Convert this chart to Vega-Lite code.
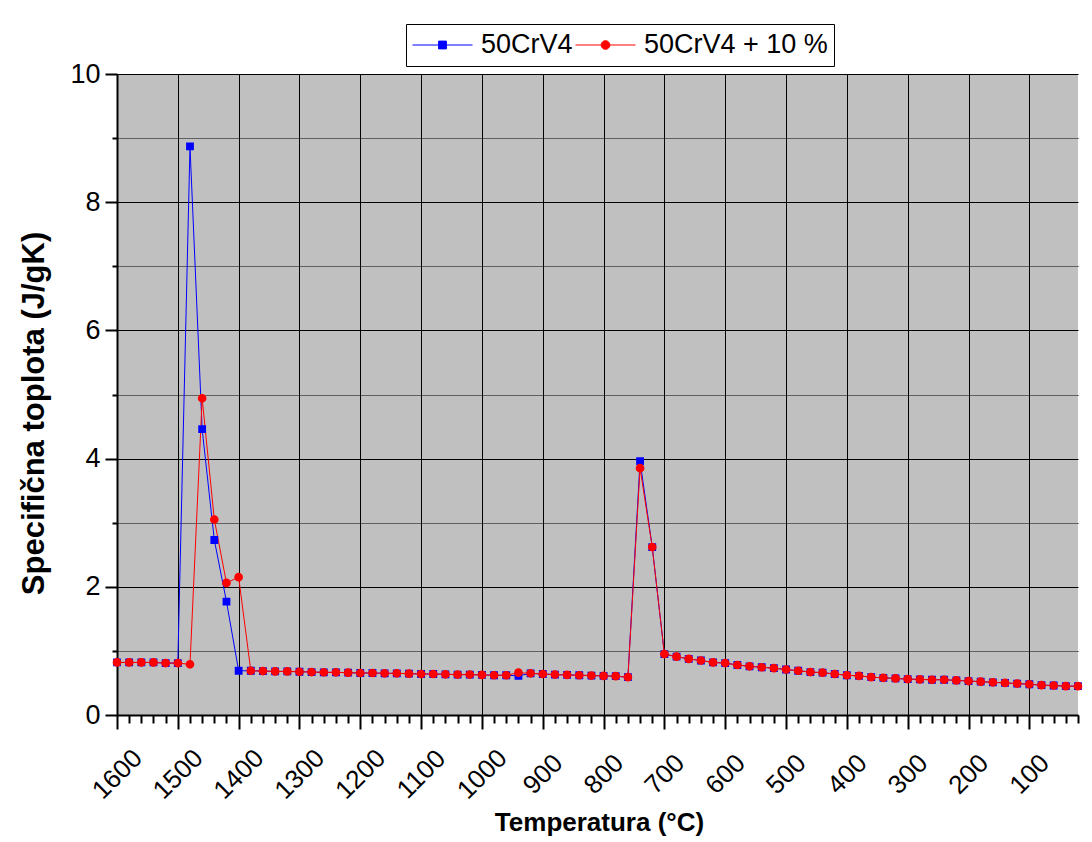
{
  "$schema": "https://vega.github.io/schema/vega-lite/v6.json",
  "autosize": {"type": "none"},
  "padding": {"left": 117, "top": 74, "right": 14, "bottom": 127},
  "width": 961,
  "height": 641,
  "background": "white",
  "config": {
    "view": {"fill": "#c0c0c0", "stroke": null},
    "font": "Liberation Sans"
  },
  "data": {"values": [
    {"T": 1600, "v": 0.82, "s": "50CrV4"},
    {"T": 1580, "v": 0.82, "s": "50CrV4"},
    {"T": 1560, "v": 0.82, "s": "50CrV4"},
    {"T": 1540, "v": 0.82, "s": "50CrV4"},
    {"T": 1520, "v": 0.81, "s": "50CrV4"},
    {"T": 1500, "v": 0.81, "s": "50CrV4"},
    {"T": 1480, "v": 8.87, "s": "50CrV4"},
    {"T": 1460, "v": 4.46, "s": "50CrV4"},
    {"T": 1440, "v": 2.73, "s": "50CrV4"},
    {"T": 1420, "v": 1.77, "s": "50CrV4"},
    {"T": 1400, "v": 0.69, "s": "50CrV4"},
    {"T": 1380, "v": 0.69, "s": "50CrV4"},
    {"T": 1360, "v": 0.685, "s": "50CrV4"},
    {"T": 1340, "v": 0.68, "s": "50CrV4"},
    {"T": 1320, "v": 0.68, "s": "50CrV4"},
    {"T": 1300, "v": 0.675, "s": "50CrV4"},
    {"T": 1280, "v": 0.67, "s": "50CrV4"},
    {"T": 1260, "v": 0.665, "s": "50CrV4"},
    {"T": 1240, "v": 0.665, "s": "50CrV4"},
    {"T": 1220, "v": 0.66, "s": "50CrV4"},
    {"T": 1200, "v": 0.655, "s": "50CrV4"},
    {"T": 1180, "v": 0.655, "s": "50CrV4"},
    {"T": 1160, "v": 0.65, "s": "50CrV4"},
    {"T": 1140, "v": 0.65, "s": "50CrV4"},
    {"T": 1120, "v": 0.645, "s": "50CrV4"},
    {"T": 1100, "v": 0.64, "s": "50CrV4"},
    {"T": 1080, "v": 0.64, "s": "50CrV4"},
    {"T": 1060, "v": 0.635, "s": "50CrV4"},
    {"T": 1040, "v": 0.63, "s": "50CrV4"},
    {"T": 1020, "v": 0.63, "s": "50CrV4"},
    {"T": 1000, "v": 0.625, "s": "50CrV4"},
    {"T": 980, "v": 0.62, "s": "50CrV4"},
    {"T": 960, "v": 0.62, "s": "50CrV4"},
    {"T": 940, "v": 0.61, "s": "50CrV4"},
    {"T": 920, "v": 0.65, "s": "50CrV4"},
    {"T": 900, "v": 0.64, "s": "50CrV4"},
    {"T": 880, "v": 0.63, "s": "50CrV4"},
    {"T": 860, "v": 0.625, "s": "50CrV4"},
    {"T": 840, "v": 0.62, "s": "50CrV4"},
    {"T": 820, "v": 0.615, "s": "50CrV4"},
    {"T": 800, "v": 0.61, "s": "50CrV4"},
    {"T": 780, "v": 0.605, "s": "50CrV4"},
    {"T": 760, "v": 0.59, "s": "50CrV4"},
    {"T": 740, "v": 3.96, "s": "50CrV4"},
    {"T": 720, "v": 2.62, "s": "50CrV4"},
    {"T": 700, "v": 0.95, "s": "50CrV4"},
    {"T": 680, "v": 0.91, "s": "50CrV4"},
    {"T": 660, "v": 0.875, "s": "50CrV4"},
    {"T": 640, "v": 0.85, "s": "50CrV4"},
    {"T": 620, "v": 0.82, "s": "50CrV4"},
    {"T": 600, "v": 0.81, "s": "50CrV4"},
    {"T": 580, "v": 0.78, "s": "50CrV4"},
    {"T": 560, "v": 0.76, "s": "50CrV4"},
    {"T": 540, "v": 0.745, "s": "50CrV4"},
    {"T": 520, "v": 0.73, "s": "50CrV4"},
    {"T": 500, "v": 0.71, "s": "50CrV4"},
    {"T": 480, "v": 0.69, "s": "50CrV4"},
    {"T": 460, "v": 0.67, "s": "50CrV4"},
    {"T": 440, "v": 0.66, "s": "50CrV4"},
    {"T": 420, "v": 0.64, "s": "50CrV4"},
    {"T": 400, "v": 0.62, "s": "50CrV4"},
    {"T": 380, "v": 0.61, "s": "50CrV4"},
    {"T": 360, "v": 0.59, "s": "50CrV4"},
    {"T": 340, "v": 0.58, "s": "50CrV4"},
    {"T": 320, "v": 0.57, "s": "50CrV4"},
    {"T": 300, "v": 0.56, "s": "50CrV4"},
    {"T": 280, "v": 0.555, "s": "50CrV4"},
    {"T": 260, "v": 0.55, "s": "50CrV4"},
    {"T": 240, "v": 0.55, "s": "50CrV4"},
    {"T": 220, "v": 0.54, "s": "50CrV4"},
    {"T": 200, "v": 0.53, "s": "50CrV4"},
    {"T": 180, "v": 0.52, "s": "50CrV4"},
    {"T": 160, "v": 0.51, "s": "50CrV4"},
    {"T": 140, "v": 0.5, "s": "50CrV4"},
    {"T": 120, "v": 0.49, "s": "50CrV4"},
    {"T": 100, "v": 0.48, "s": "50CrV4"},
    {"T": 80, "v": 0.465, "s": "50CrV4"},
    {"T": 60, "v": 0.46, "s": "50CrV4"},
    {"T": 40, "v": 0.45, "s": "50CrV4"},
    {"T": 20, "v": 0.45, "s": "50CrV4"},
    {"T": 1600, "v": 0.82, "s": "50CrV4 + 10 %"},
    {"T": 1580, "v": 0.82, "s": "50CrV4 + 10 %"},
    {"T": 1560, "v": 0.82, "s": "50CrV4 + 10 %"},
    {"T": 1540, "v": 0.82, "s": "50CrV4 + 10 %"},
    {"T": 1520, "v": 0.81, "s": "50CrV4 + 10 %"},
    {"T": 1500, "v": 0.81, "s": "50CrV4 + 10 %"},
    {"T": 1480, "v": 0.79, "s": "50CrV4 + 10 %"},
    {"T": 1460, "v": 4.94, "s": "50CrV4 + 10 %"},
    {"T": 1440, "v": 3.05, "s": "50CrV4 + 10 %"},
    {"T": 1420, "v": 2.06, "s": "50CrV4 + 10 %"},
    {"T": 1400, "v": 2.15, "s": "50CrV4 + 10 %"},
    {"T": 1380, "v": 0.69, "s": "50CrV4 + 10 %"},
    {"T": 1360, "v": 0.685, "s": "50CrV4 + 10 %"},
    {"T": 1340, "v": 0.68, "s": "50CrV4 + 10 %"},
    {"T": 1320, "v": 0.68, "s": "50CrV4 + 10 %"},
    {"T": 1300, "v": 0.675, "s": "50CrV4 + 10 %"},
    {"T": 1280, "v": 0.67, "s": "50CrV4 + 10 %"},
    {"T": 1260, "v": 0.665, "s": "50CrV4 + 10 %"},
    {"T": 1240, "v": 0.665, "s": "50CrV4 + 10 %"},
    {"T": 1220, "v": 0.66, "s": "50CrV4 + 10 %"},
    {"T": 1200, "v": 0.655, "s": "50CrV4 + 10 %"},
    {"T": 1180, "v": 0.655, "s": "50CrV4 + 10 %"},
    {"T": 1160, "v": 0.65, "s": "50CrV4 + 10 %"},
    {"T": 1140, "v": 0.65, "s": "50CrV4 + 10 %"},
    {"T": 1120, "v": 0.645, "s": "50CrV4 + 10 %"},
    {"T": 1100, "v": 0.64, "s": "50CrV4 + 10 %"},
    {"T": 1080, "v": 0.64, "s": "50CrV4 + 10 %"},
    {"T": 1060, "v": 0.635, "s": "50CrV4 + 10 %"},
    {"T": 1040, "v": 0.63, "s": "50CrV4 + 10 %"},
    {"T": 1020, "v": 0.63, "s": "50CrV4 + 10 %"},
    {"T": 1000, "v": 0.625, "s": "50CrV4 + 10 %"},
    {"T": 980, "v": 0.62, "s": "50CrV4 + 10 %"},
    {"T": 960, "v": 0.62, "s": "50CrV4 + 10 %"},
    {"T": 940, "v": 0.66, "s": "50CrV4 + 10 %"},
    {"T": 920, "v": 0.65, "s": "50CrV4 + 10 %"},
    {"T": 900, "v": 0.64, "s": "50CrV4 + 10 %"},
    {"T": 880, "v": 0.63, "s": "50CrV4 + 10 %"},
    {"T": 860, "v": 0.625, "s": "50CrV4 + 10 %"},
    {"T": 840, "v": 0.62, "s": "50CrV4 + 10 %"},
    {"T": 820, "v": 0.615, "s": "50CrV4 + 10 %"},
    {"T": 800, "v": 0.61, "s": "50CrV4 + 10 %"},
    {"T": 780, "v": 0.605, "s": "50CrV4 + 10 %"},
    {"T": 760, "v": 0.59, "s": "50CrV4 + 10 %"},
    {"T": 740, "v": 3.85, "s": "50CrV4 + 10 %"},
    {"T": 720, "v": 2.62, "s": "50CrV4 + 10 %"},
    {"T": 700, "v": 0.95, "s": "50CrV4 + 10 %"},
    {"T": 680, "v": 0.91, "s": "50CrV4 + 10 %"},
    {"T": 660, "v": 0.875, "s": "50CrV4 + 10 %"},
    {"T": 640, "v": 0.85, "s": "50CrV4 + 10 %"},
    {"T": 620, "v": 0.82, "s": "50CrV4 + 10 %"},
    {"T": 600, "v": 0.81, "s": "50CrV4 + 10 %"},
    {"T": 580, "v": 0.78, "s": "50CrV4 + 10 %"},
    {"T": 560, "v": 0.76, "s": "50CrV4 + 10 %"},
    {"T": 540, "v": 0.745, "s": "50CrV4 + 10 %"},
    {"T": 520, "v": 0.73, "s": "50CrV4 + 10 %"},
    {"T": 500, "v": 0.71, "s": "50CrV4 + 10 %"},
    {"T": 480, "v": 0.69, "s": "50CrV4 + 10 %"},
    {"T": 460, "v": 0.67, "s": "50CrV4 + 10 %"},
    {"T": 440, "v": 0.66, "s": "50CrV4 + 10 %"},
    {"T": 420, "v": 0.64, "s": "50CrV4 + 10 %"},
    {"T": 400, "v": 0.62, "s": "50CrV4 + 10 %"},
    {"T": 380, "v": 0.61, "s": "50CrV4 + 10 %"},
    {"T": 360, "v": 0.59, "s": "50CrV4 + 10 %"},
    {"T": 340, "v": 0.58, "s": "50CrV4 + 10 %"},
    {"T": 320, "v": 0.57, "s": "50CrV4 + 10 %"},
    {"T": 300, "v": 0.56, "s": "50CrV4 + 10 %"},
    {"T": 280, "v": 0.555, "s": "50CrV4 + 10 %"},
    {"T": 260, "v": 0.55, "s": "50CrV4 + 10 %"},
    {"T": 240, "v": 0.55, "s": "50CrV4 + 10 %"},
    {"T": 220, "v": 0.54, "s": "50CrV4 + 10 %"},
    {"T": 200, "v": 0.53, "s": "50CrV4 + 10 %"},
    {"T": 180, "v": 0.52, "s": "50CrV4 + 10 %"},
    {"T": 160, "v": 0.51, "s": "50CrV4 + 10 %"},
    {"T": 140, "v": 0.5, "s": "50CrV4 + 10 %"},
    {"T": 120, "v": 0.49, "s": "50CrV4 + 10 %"},
    {"T": 100, "v": 0.48, "s": "50CrV4 + 10 %"},
    {"T": 80, "v": 0.465, "s": "50CrV4 + 10 %"},
    {"T": 60, "v": 0.46, "s": "50CrV4 + 10 %"},
    {"T": 40, "v": 0.45, "s": "50CrV4 + 10 %"},
    {"T": 20, "v": 0.45, "s": "50CrV4 + 10 %"}
  ]},
  "encoding": {
    "x": {
      "field": "T", "type": "quantitative",
      "scale": {"domain": [20, 1600], "reverse": true, "nice": false, "zero": false},
      "axis": {
        "title": "Temperatura (°C)",
        "titleFont": "Liberation Sans",
        "titleFontWeight": "bold",
        "titleFontSize": 26,
        "titleColor": "black",
        "titleX": 482,
        "titleY": 115,
        "titleAlign": "center",
        "titleBaseline": "alphabetic",
        "values": [20,40,60,80,100,120,140,160,180,200,220,240,260,280,300,320,340,360,380,400,420,440,460,480,500,520,540,560,580,600,620,640,660,680,700,720,740,760,780,800,820,840,860,880,900,920,940,960,980,1000,1020,1040,1060,1080,1100,1120,1140,1160,1180,1200,1220,1240,1260,1280,1300,1320,1340,1360,1380,1400,1420,1440,1460,1480,1500,1520,1540,1560,1580,1600],
        "format": "d",
        "labelExpr": "datum.value % 100 === 0 ? datum.label : ''",
        "labelAngle": -45,
        "labelAlign": "center",
        "labelBaseline": "middle",
        "labelFont": "Liberation Sans",
        "labelFontSize": 26,
        "labelColor": "black",
        "labelPadding": 45,
        "labelOverlap": false,
        "labelFlush": false,
        "domainColor": "black",
        "domainWidth": 2,
        "tickColor": "black",
        "tickWidth": 2,
        "tickSize": {"condition": {"test": "datum.value % 100 === 0", "value": 14}, "value": 8},
        "grid": true,
        "gridColor": "black",
        "gridWidth": 1,
        "gridOpacity": {"condition": {"test": "datum.value % 100 === 0", "value": 1}, "value": 0}
      }
    },
    "y": {
      "field": "v", "type": "quantitative",
      "scale": {"domain": [0, 10], "nice": false},
      "axis": {
        "title": "Specifična toplota (J/gK)",
        "titleFont": "Liberation Sans",
        "titleFontWeight": "bold",
        "titleFontSize": 31,
        "titleColor": "black",
        "titleX": -74,
        "titleY": 339,
        "titleAngle": -90,
        "titleAlign": "center",
        "titleBaseline": "alphabetic",
        "values": [0,1,2,3,4,5,6,7,8,9,10],
        "labelExpr": "datum.value % 2 === 0 ? datum.label : ''",
        "labelFont": "Liberation Sans",
        "labelFontSize": 27,
        "labelColor": "black",
        "labelPadding": 5,
        "labelBaseline": "middle",
        "labelOverlap": false,
        "labelFlush": false,
        "domainColor": "black",
        "domainWidth": 2,
        "tickColor": "black",
        "tickWidth": 2,
        "tickSize": {"condition": {"test": "datum.value % 2 === 0", "value": 12}, "value": 5},
        "grid": true,
        "gridColor": "black",
        "gridWidth": 1,
        "gridDash": {"condition": {"test": "datum.value % 2 === 1", "value": [1, 1]}, "value": []}
      }
    }
  },
  "layer": [
    {
      "mark": {"type": "line", "strokeWidth": 1},
      "encoding": {
        "stroke": {"field": "s", "type": "nominal", "scale": {"domain": ["50CrV4", "50CrV4 + 10 %"], "range": ["#0000ff", "#ff0000"]},
          "legend": {
            "title": null,
            "orient": "none",
            "legendX": 289,
            "legendY": -50,
            "direction": "horizontal",
            "strokeColor": "black",
            "fillColor": "white",
            "padding": 6,
            "labelFont": "Liberation Sans",
            "labelFontSize": 27,
            "labelColor": "black",
            "labelLimit": 500,
            "labelOffset": 8,
            "columnPadding": 2,
            "clipHeight": 30,
            "symbolSize": 3600,
            "symbolStrokeWidth": 1
          }
        }
      }
    },
    {
      "mark": {"type": "point", "filled": true, "opacity": 1, "size": 3600},
      "encoding": {
        "color": {
          "field": "s", "type": "nominal",
          "scale": {"domain": ["50CrV4", "50CrV4 + 10 %"], "range": ["#0000ff", "#ff0000"]},
          "legend": null
        },
        "shape": {"field": "s", "type": "nominal",
          "scale": {"domain": ["50CrV4", "50CrV4 + 10 %"], "range": ["M-1,0H1M-0.13,-0.13H0.13V0.13H-0.13Z", "M-1,0H1M-0.145,0A0.145,0.145 0 1,0 0.145,0A0.145,0.145 0 1,0 -0.145,0Z"]},
          "legend": null}
      }
    }
  ]
}
